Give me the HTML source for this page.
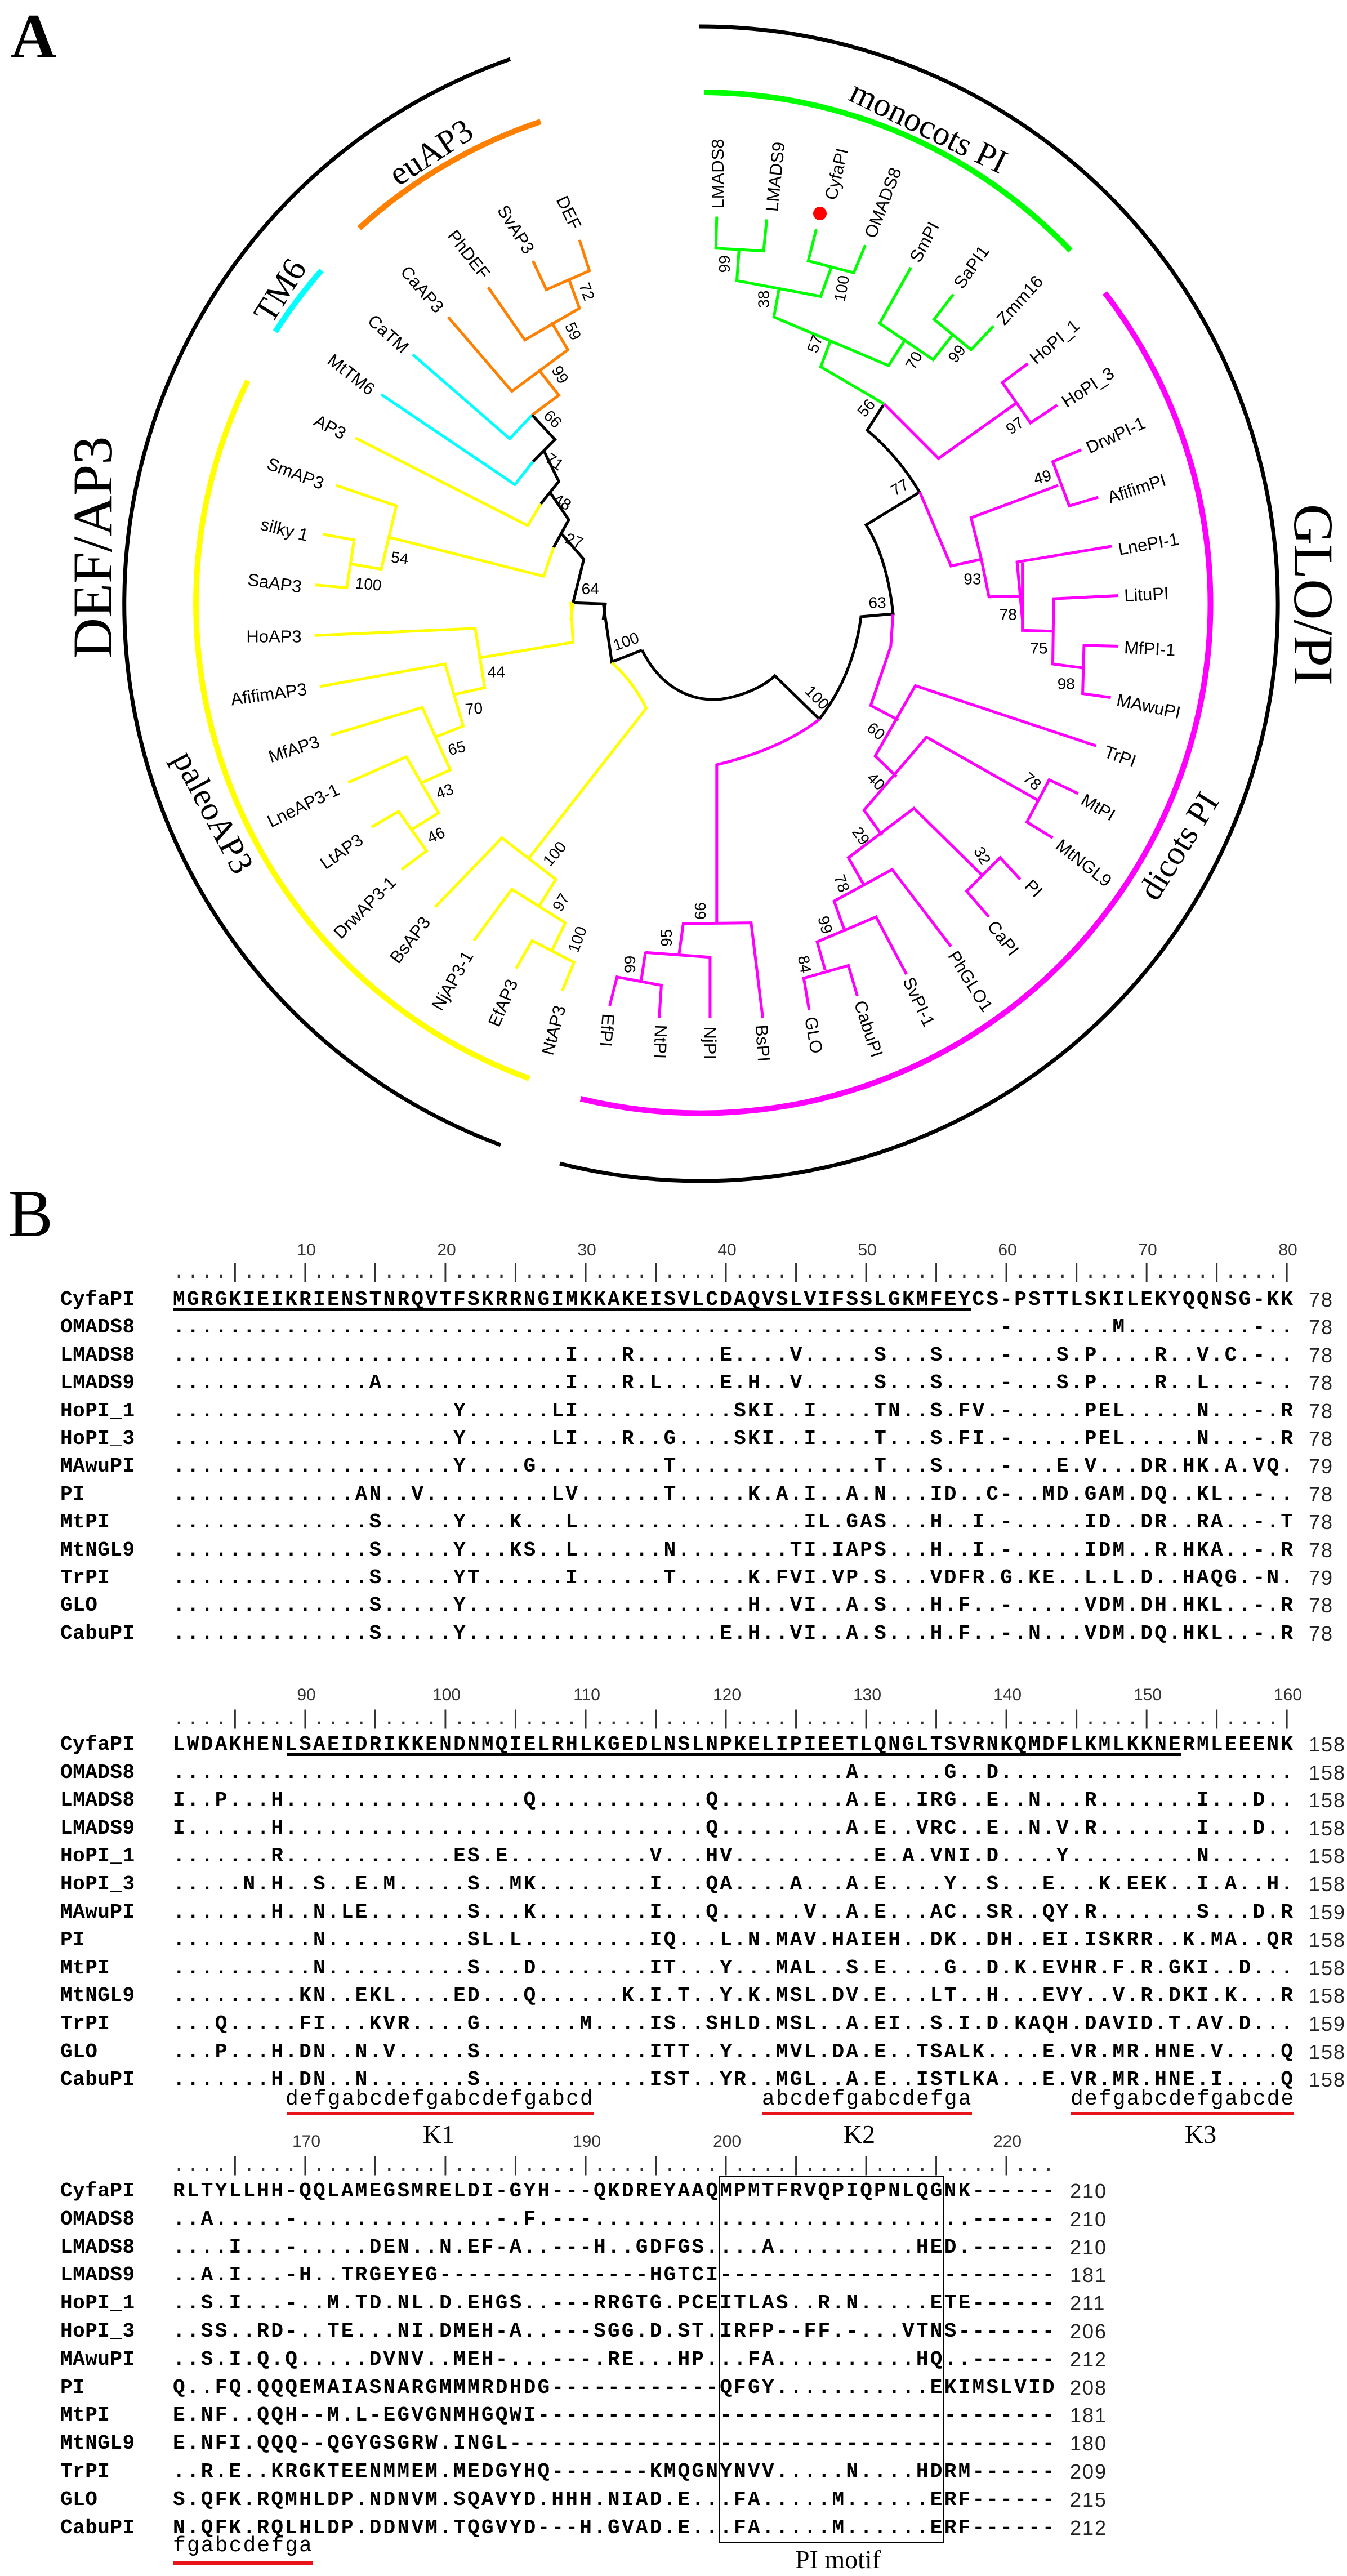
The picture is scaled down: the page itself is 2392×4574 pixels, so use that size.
<!DOCTYPE html>
<html><head><meta charset="utf-8">
<style>
html,body{margin:0;padding:0;background:#fff;}
#pg{position:relative;width:2392px;height:4574px;overflow:hidden;background:#fff;}
svg{position:absolute;left:0;top:0;}
.r{position:absolute;left:0;height:36px;white-space:pre;}
.r span{position:absolute;top:0;font:bold 36px/36px "Liberation Mono",monospace;letter-spacing:3.3px;color:#000;white-space:pre;}
.r .n{left:107px;letter-spacing:0.5px;}
.r .s{left:307px;}
.r .e{font-weight:normal;font-family:"Liberation Sans",sans-serif;letter-spacing:2px;color:#222;}
.e1{left:2324px;}
.e3{left:1900px;}
.tk{position:absolute;left:307px;font:36px/36px "Liberation Mono",monospace;letter-spacing:3.3px;white-space:pre;color:#333;}
.num{position:absolute;width:100px;text-align:center;font:30px/30px "Liberation Sans",sans-serif;color:#333;}
.ul{position:absolute;background:#000;height:5px;}
.red{position:absolute;background:#e8141a;height:6px;}
.an{position:absolute;font:38px/38px "Liberation Mono",monospace;letter-spacing:2.1px;white-space:pre;color:#000;}
.kl{position:absolute;width:200px;text-align:center;font:46px/46px "Liberation Serif",serif;color:#000;}
</style></head>
<body><div id="pg">
<svg width="2392" height="2140" viewBox="0 0 2392 2140" xmlns="http://www.w3.org/2000/svg">
<g fill="none" stroke-linejoin="miter">
<!-- big arcs -->
<path d="M889,2033 A1025,1025 0 0 1 906,105" stroke="#000" stroke-width="7"/>
<path d="M1241,47 A1025,1025 0 1 1 994,2066" stroke="#000" stroke-width="7"/>
<path d="M638,405 A902,902 0 0 1 960,216" stroke="#ff8000" stroke-width="10"/>
<path d="M489,589 A897,897 0 0 1 571,480" stroke="#00ffff" stroke-width="10"/>
<path d="M940,1915 A897,897 0 0 1 440,676" stroke="#ffff00" stroke-width="10"/>
<path d="M1250,164 A908,908 0 0 1 1901,445" stroke="#00ff00" stroke-width="10"/>
<path d="M1962,520 A905,905 0 0 1 1031,1951" stroke="#ff00ff" stroke-width="10"/>
<!-- root / backbone black in orig coords -->
<path d="M1140,1154 C1175,1225 1235,1250 1290,1240 C1330,1232 1360,1215 1376,1200 L1455,1277" stroke="#000" stroke-width="5"/>
<path d="M1455,1277 Q1515,1200 1529,1095 L1586,1090 Q1575,990 1538,932 L1633,874" stroke="#000" stroke-width="5"/>
<path d="M1570,717 L1540,764 Q1595,810 1633,874" stroke="#000" stroke-width="5"/>
</g>
<circle cx="1456" cy="379" r="12" fill="#ff0000"/>

<!-- Z4 top-left -->
<g transform="matrix(0.7651,0,0,0.7018,0,0)" fill="none" stroke-width="5">
<g style="vector-effect:non-scaling-stroke">
<path vector-effect="non-scaling-stroke" stroke="#ff8000" d="M1345,607 L1368,685 L1268,733 L1237,660"/>
<path vector-effect="non-scaling-stroke" stroke="#ff8000" d="M1320,705 L1345,780 L1218,860 L1133,727"/>
<path vector-effect="non-scaling-stroke" stroke="#ff8000" d="M1280,815 L1318,885 L1188,990 L1040,802"/>
<path vector-effect="non-scaling-stroke" stroke="#ff8000" d="M1250,935 L1297,1000 L1235,1050"/>
<path vector-effect="non-scaling-stroke" stroke="#00ffff" d="M958,897 L1183,1110 L1235,1050"/>
<path vector-effect="non-scaling-stroke" stroke="#000" d="M1235,1050 L1288,1112 L1237,1168"/>
<path vector-effect="non-scaling-stroke" stroke="#00ffff" d="M1237,1168 L1195,1226 L885,998"/>
<path vector-effect="non-scaling-stroke" stroke="#000" d="M1262,1140 L1297,1218 L1255,1275"/>
<path vector-effect="non-scaling-stroke" stroke="#ffff00" d="M1255,1275 L1225,1330 L825,1108"/>
<path vector-effect="non-scaling-stroke" stroke="#000" d="M1276,1245 L1320,1315 L1285,1385"/>
<path vector-effect="non-scaling-stroke" stroke="#ffff00" d="M1285,1385 L1262,1458 L905,1360"/>
<path vector-effect="non-scaling-stroke" stroke="#ffff00" d="M780,1228 L920,1280 L885,1440 L815,1427"/>
<path vector-effect="non-scaling-stroke" stroke="#ffff00" d="M750,1352 L822,1366 L805,1487 L732,1480"/>
<path vector-effect="non-scaling-stroke" stroke="#000" d="M1303,1350 L1355,1415 L1330,1525 L1405,1528 L1400,1568"/>
<path vector-effect="non-scaling-stroke" stroke="#ffff00" d="M1330,1525 L1325,1568"/>
</g>
</g>
<g transform="matrix(0.7651,0,0,0.7018,0,0)" font-family="Liberation Sans, sans-serif" fill="#000" dominant-baseline="central">
<g font-size="31" text-anchor="end">
<text transform="translate(1338,578) scale(1.307,1.425) rotate(64)">DEF</text>
<text transform="translate(1230,638) scale(1.307,1.425) rotate(58)">SvAP3</text>
<text transform="translate(1128,700) scale(1.307,1.425) rotate(52)">PhDEF</text>
<text transform="translate(1022,785) scale(1.307,1.425) rotate(49)">CaAP3</text>
<text transform="translate(942,885) scale(1.307,1.425) rotate(42)">CaTM</text>
<text transform="translate(865,990) scale(1.307,1.425) rotate(38)">MtTM6</text>
<text transform="translate(800,1100) scale(1.307,1.425) rotate(28)">AP3</text>
<text transform="translate(750,1225) scale(1.307,1.425) rotate(21)">SmAP3</text>
<text transform="translate(715,1355) scale(1.307,1.425) rotate(14)">silky 1</text>
<text transform="translate(700,1485) scale(1.307,1.425) rotate(8)">SaAP3</text>
</g>
<g font-size="28" text-anchor="middle">
<text transform="translate(1362,738) scale(1.307,1.425) rotate(70)">72</text>
<text transform="translate(1330,838) scale(1.307,1.425) rotate(65)">59</text>
<text transform="translate(1300,948) scale(1.307,1.425) rotate(60)">99</text>
<text transform="translate(1283,1060) scale(1.307,1.425) rotate(45)">66</text>
<text transform="translate(1287,1168) scale(1.307,1.425) rotate(35)">71</text>
<text transform="translate(1305,1270) scale(1.307,1.425) rotate(30)">48</text>
<text transform="translate(1333,1368) scale(1.307,1.425) rotate(20)">27</text>
<text transform="translate(1370,1490) scale(1.307,1.425)">64</text>
<text transform="translate(928,1412) scale(1.307,1.425) rotate(8)">54</text>
<text transform="translate(855,1478) scale(1.307,1.425) rotate(5)">100</text>
</g>
</g>

<!-- Z5 top-right -->
<g transform="matrix(0.7924,0,0,0.7018,1150,0)" fill="none" stroke-width="5">
<path vector-effect="non-scaling-stroke" stroke="#00ff00" d="M155,548 L153,628 L260,635 L267,555"/>
<path vector-effect="non-scaling-stroke" stroke="#00ff00" d="M205,630 L200,710 L388,750 L412,675"/>
<path vector-effect="non-scaling-stroke" stroke="#00ff00" d="M378,580 L360,660 L462,690 L488,620"/>
<path vector-effect="non-scaling-stroke" stroke="#00ff00" d="M295,728 L283,802 L540,925 L578,858"/>
<path vector-effect="non-scaling-stroke" stroke="#00ff00" d="M590,677 L520,818 L640,910 L683,848"/>
<path vector-effect="non-scaling-stroke" stroke="#00ff00" d="M685,745 L642,808 L725,885 L775,825"/>
<path vector-effect="non-scaling-stroke" stroke="#00ff00" d="M410,862 L388,928 L530,1022"/>
<path vector-effect="non-scaling-stroke" stroke="#ff00ff" d="M530,1022 L652,1160 L826,1020"/>
<path vector-effect="non-scaling-stroke" stroke="#ff00ff" d="M852,920 L795,968 L858,1070 L918,1025"/>
<path vector-effect="non-scaling-stroke" stroke="#ff00ff" d="M610,1245 L680,1432 L748,1415"/>
<path vector-effect="non-scaling-stroke" stroke="#ff00ff" d="M748,1415 L725,1310 L920,1228"/>
<path vector-effect="non-scaling-stroke" stroke="#ff00ff" d="M972,1138 L908,1168 L945,1280 L1010,1258"/>
<path vector-effect="non-scaling-stroke" stroke="#ff00ff" d="M748,1415 L765,1510 L835,1508"/>
<path vector-effect="non-scaling-stroke" stroke="#ff00ff" d="M1040,1382 L828,1422 L840,1568"/>
</g>
<g transform="matrix(0.7924,0,0,0.7018,1150,0)" font-family="Liberation Sans, sans-serif" fill="#000" dominant-baseline="central">
<g font-size="31" text-anchor="start">
<text transform="translate(157,528) scale(1.262,1.425) rotate(-90)">LMADS8</text>
<text transform="translate(278,535) scale(1.262,1.425) rotate(-84)">LMADS9</text>
<text transform="translate(410,505) scale(1.262,1.425) rotate(-77)">CyfaPI</text>
<text transform="translate(498,600) scale(1.262,1.425) rotate(-69)">OMADS8</text>
<text transform="translate(598,660) scale(1.262,1.425) rotate(-62)">SmPI</text>
<text transform="translate(695,725) scale(1.262,1.425) rotate(-55)">SaPI1</text>
<text transform="translate(790,815) scale(1.262,1.425) rotate(-48)">Zmm16</text>
<text transform="translate(862,912) scale(1.262,1.425) rotate(-40)">HoPI_1</text>
<text transform="translate(932,1020) scale(1.262,1.425) rotate(-33)">HoPI_3</text>
<text transform="translate(985,1135) scale(1.262,1.425) rotate(-25)">DrwPI-1</text>
<text transform="translate(1032,1260) scale(1.262,1.425) rotate(-18)">AfifimPI</text>
<text transform="translate(1055,1390) scale(1.262,1.425) rotate(-10)">LnePI-1</text>
</g>
<g font-size="28" text-anchor="middle">
<text transform="translate(172,668) scale(1.262,1.425) rotate(-90)">99</text>
<text transform="translate(260,757) scale(1.262,1.425) rotate(-90)">38</text>
<text transform="translate(435,730) scale(1.262,1.425) rotate(-80)">100</text>
<text transform="translate(375,870) scale(1.262,1.425) rotate(-70)">57</text>
<text transform="translate(597,912) scale(1.262,1.425) rotate(-60)">70</text>
<text transform="translate(693,895) scale(1.262,1.425) rotate(-52)">99</text>
<text transform="translate(490,1032) scale(1.262,1.425) rotate(-50)">56</text>
<text transform="translate(823,1077) scale(1.262,1.425) rotate(-35)">97</text>
<text transform="translate(565,1233) scale(1.262,1.425) rotate(-30)">77</text>
<text transform="translate(885,1207) scale(1.262,1.425) rotate(-15)">49</text>
<text transform="translate(728,1465) scale(1.262,1.425)">93</text>
<text transform="translate(515,1525) scale(1.262,1.425)">63</text>
</g>
</g>

<!-- Z6 bottom-left -->
<g transform="matrix(0.7651,0,0,0.7018,0,1000)" fill="none" stroke-width="5">
<path vector-effect="non-scaling-stroke" stroke="#000" d="M1400,100 L1420,250 L1490,220"/>
<path vector-effect="non-scaling-stroke" stroke="#ffff00" d="M1325,98 L1330,200 L1110,240"/>
<path vector-effect="non-scaling-stroke" stroke="#ffff00" d="M730,183 L1103,165 L1125,315 L1055,332"/>
<path vector-effect="non-scaling-stroke" stroke="#ffff00" d="M742,312 L1033,255 L1075,412 L1010,440"/>
<path vector-effect="non-scaling-stroke" stroke="#ffff00" d="M768,435 L980,365 L1045,523 L980,555"/>
<path vector-effect="non-scaling-stroke" stroke="#ffff00" d="M808,555 L943,490 L1018,632 L958,672"/>
<path vector-effect="non-scaling-stroke" stroke="#ffff00" d="M862,668 L925,628 L990,728 L932,775"/>
<path vector-effect="non-scaling-stroke" stroke="#ffff00" d="M1420,252 Q1470,300 1500,367 L1225,750"/>
<path vector-effect="non-scaling-stroke" stroke="#ffff00" d="M1010,870 L1165,695 L1290,800 L1250,870"/>
<path vector-effect="non-scaling-stroke" stroke="#ffff00" d="M1100,955 L1188,825 L1312,910 L1282,978"/>
<path vector-effect="non-scaling-stroke" stroke="#ffff00" d="M1198,1025 L1235,955 L1332,1010 L1305,1082"/>
<path vector-effect="non-scaling-stroke" stroke="#ff00ff" d="M1498,985 L1488,1057"/>
<path vector-effect="non-scaling-stroke" stroke="#ff00ff" d="M1415,1120 L1432,1047 L1535,1068 L1530,1150"/>
</g>
<g transform="matrix(0.7651,0,0,0.7018,0,1000)" font-family="Liberation Sans, sans-serif" fill="#000" dominant-baseline="central">
<g font-size="31" text-anchor="end">
<text transform="translate(700,185) scale(1.307,1.425)">HoAP3</text>
<text transform="translate(712,318) scale(1.307,1.425) rotate(-8)">AfifimAP3</text>
<text transform="translate(740,450) scale(1.307,1.425) rotate(-18)">MfAP3</text>
<text transform="translate(785,570) scale(1.307,1.425) rotate(-26)">LneAP3-1</text>
<text transform="translate(838,695) scale(1.307,1.425) rotate(-35)">LtAP3</text>
<text transform="translate(912,800) scale(1.307,1.425) rotate(-45)">DrwAP3-1</text>
<text transform="translate(990,900) scale(1.307,1.425) rotate(-52)">BsAP3</text>
<text transform="translate(1088,985) scale(1.307,1.425) rotate(-60)">NjAP3-1</text>
<text transform="translate(1190,1055) scale(1.307,1.425) rotate(-67)">EfAP3</text>
<text transform="translate(1300,1120) scale(1.307,1.425) rotate(-75)">NtAP3</text>
</g>
<text font-size="31" text-anchor="start" transform="translate(1412,1140) scale(1.307,1.425) rotate(95)">EfPI</text>
<g font-size="28" text-anchor="middle">
<text transform="translate(1453,198) scale(1.307,1.425) rotate(-20)">100</text>
<text transform="translate(1152,275) scale(1.307,1.425)">44</text>
<text transform="translate(1100,368) scale(1.307,1.425) rotate(-5)">70</text>
<text transform="translate(1060,468) scale(1.307,1.425) rotate(-15)">65</text>
<text transform="translate(1032,577) scale(1.307,1.425) rotate(-20)">43</text>
<text transform="translate(1012,688) scale(1.307,1.425) rotate(-25)">46</text>
<text transform="translate(1287,735) scale(1.307,1.425) rotate(-50)">100</text>
<text transform="translate(1302,858) scale(1.307,1.425) rotate(-60)">97</text>
<text transform="translate(1340,952) scale(1.307,1.425) rotate(-70)">100</text>
<text transform="translate(1462,1015) scale(1.307,1.425) rotate(-90)">99</text>
</g>
</g>

<!-- Z7 bottom-right -->
<g transform="matrix(0.7924,0,0,0.7018,1150,1000)" fill="none" stroke-width="5">
<path vector-effect="non-scaling-stroke" stroke="#ff00ff" d="M840,0 L840,170 L908,172"/>
<path vector-effect="non-scaling-stroke" stroke="#ff00ff" d="M1055,82 L910,90 L908,255 L975,265"/>
<path vector-effect="non-scaling-stroke" stroke="#ff00ff" d="M1055,210 L978,208 L975,330 L1038,340"/>
<path vector-effect="non-scaling-stroke" stroke="#ff00ff" d="M550,130 L545,210 L500,360 L562,397"/>
<path vector-effect="non-scaling-stroke" stroke="#ff00ff" d="M1005,462 L600,310 L510,488 L558,540"/>
<path vector-effect="non-scaling-stroke" stroke="#ff00ff" d="M875,600 L625,440 L485,625 L525,688"/>
<path vector-effect="non-scaling-stroke" stroke="#ff00ff" d="M965,583 L900,548 L850,655 L908,695"/>
<path vector-effect="non-scaling-stroke" stroke="#ff00ff" d="M750,790 L597,620 L450,745 L485,815"/>
<path vector-effect="non-scaling-stroke" stroke="#ff00ff" d="M835,800 L790,745 L715,830 L765,895"/>
<path vector-effect="non-scaling-stroke" stroke="#ff00ff" d="M680,970 L548,775 L418,855 L440,925"/>
<path vector-effect="non-scaling-stroke" stroke="#ff00ff" d="M580,1040 L512,895 L380,958 L398,1030"/>
<path vector-effect="non-scaling-stroke" stroke="#ff00ff" d="M362,1130 L350,1050 L450,1018 L470,1095"/>
<path vector-effect="non-scaling-stroke" stroke="#ff00ff" d="M385,395 Q300,470 155,510 L155,912"/>
<path vector-effect="non-scaling-stroke" stroke="#ff00ff" d="M70,993 L80,912 L232,910 L258,1150"/>
<path vector-effect="non-scaling-stroke" stroke="#ff00ff" d="M-5,985 L140,997 L140,1150"/>
</g>
<g transform="matrix(0.7924,0,0,0.7018,1150,1000)" font-family="Liberation Sans, sans-serif" fill="#000" dominant-baseline="central">
<g font-size="31" text-anchor="start">
<text transform="translate(1068,82) scale(1.262,1.425) rotate(-3)">LituPI</text>
<text transform="translate(1068,213) scale(1.262,1.425) rotate(3)">MfPI-1</text>
<text transform="translate(1052,345) scale(1.262,1.425) rotate(12)">MAwuPI</text>
<text transform="translate(1025,475) scale(1.262,1.425) rotate(20)">TrPI</text>
<text transform="translate(975,595) scale(1.262,1.425) rotate(30)">MtPI</text>
<text transform="translate(920,708) scale(1.262,1.425) rotate(38)">MtNGL9</text>
<text transform="translate(852,808) scale(1.262,1.425) rotate(45)">PI</text>
<text transform="translate(770,910) scale(1.262,1.425) rotate(52)">CaPI</text>
<text transform="translate(683,985) scale(1.262,1.425) rotate(58)">PhGLO1</text>
<text transform="translate(583,1050) scale(1.262,1.425) rotate(65)">SvPI-1</text>
<text transform="translate(475,1108) scale(1.262,1.425) rotate(72)">CabuPI</text>
<text transform="translate(365,1148) scale(1.262,1.425) rotate(80)">GLO</text>
<text transform="translate(255,1168) scale(1.262,1.425) rotate(86)">BsPI</text>
<text transform="translate(140,1172) scale(1.262,1.425) rotate(90)">NjPI</text>
<text transform="translate(30,1168) scale(1.262,1.425) rotate(92)">NtPI</text>
</g>
<g font-size="28" text-anchor="middle">
<text transform="translate(808,130) scale(1.262,1.425)">78</text>
<text transform="translate(877,215) scale(1.262,1.425)">75</text>
<text transform="translate(938,305) scale(1.262,1.425)">98</text>
<text transform="translate(380,340) scale(1.262,1.425) rotate(45)">100</text>
<text transform="translate(512,425) scale(1.262,1.425) rotate(40)">60</text>
<text transform="translate(512,552) scale(1.262,1.425) rotate(45)">40</text>
<text transform="translate(862,552) scale(1.262,1.425) rotate(40)">78</text>
<text transform="translate(478,690) scale(1.262,1.425) rotate(55)">29</text>
<text transform="translate(750,740) scale(1.262,1.425) rotate(60)">32</text>
<text transform="translate(435,810) scale(1.262,1.425) rotate(70)">78</text>
<text transform="translate(398,915) scale(1.262,1.425) rotate(75)">99</text>
<text transform="translate(352,1015) scale(1.262,1.425) rotate(80)">84</text>
<text transform="translate(118,880) scale(1.262,1.425) rotate(-90)">66</text>
<text transform="translate(42,948) scale(1.262,1.425) rotate(-90)">95</text>
</g>
</g>

<!-- clade labels -->
<g font-family="Liberation Serif, serif" fill="#000" text-anchor="middle" dominant-baseline="central">
<text font-size="60" transform="translate(765,270) rotate(-33)">euAP3</text>
<text font-size="60" transform="translate(497,516) rotate(-58)">TM6</text>
<text font-size="60" transform="translate(1649,225) rotate(26)">monocots PI</text>
<text font-size="60" transform="translate(2093,1502) rotate(-58)">dicots PI</text>
<text font-size="60" transform="translate(379,1442) rotate(62)">paleoAP3</text>
</g>
<text font-family="Liberation Serif, serif" font-size="100" text-anchor="middle" transform="translate(198,972) rotate(-90)">DEF/AP3</text>
<text font-family="Liberation Serif, serif" font-size="100" text-anchor="middle" transform="translate(2299,1056) rotate(90)">GLO/PI</text>
<text x="19" y="102" font-family="Liberation Serif, serif" font-weight="bold" font-size="112">A</text>
</svg>

<div style="position:absolute;left:14px;top:2095px;font:120px/120px 'Liberation Serif',serif;">B</div>

<!-- Block 1 -->
<div class="num" style="left:494px;top:2205px">10</div>
<div class="num" style="left:743px;top:2205px">20</div>
<div class="num" style="left:992px;top:2205px">30</div>
<div class="num" style="left:1241px;top:2205px">40</div>
<div class="num" style="left:1490px;top:2205px">50</div>
<div class="num" style="left:1739px;top:2205px">60</div>
<div class="num" style="left:1988px;top:2205px">70</div>
<div class="num" style="left:2237px;top:2205px">80</div>
<div class="tk" style="top:2242px">....|....|....|....|....|....|....|....|....|....|....|....|....|....|....|....|</div>
<div class="r" style="top:2290px"><span class="n">CyfaPI</span><span class="s">MGRGKIEIKRIENSTNRQVTFSKRRNGIMKKAKEISVLCDAQVSLVIFSSLGKMFEYCS-PSTTLSKILEKYQQNSG-KK</span><span class="e e1">78</span></div>
<div class="ul" style="left:307px;top:2322px;width:1418px"></div>
<div class="r" style="top:2339px"><span class="n">OMADS8</span><span class="s">...........................................................-.......M.........-..</span><span class="e e1">78</span></div>
<div class="r" style="top:2389px"><span class="n">LMADS8</span><span class="s">............................I...R......E....V.....S...S....-...S.P....R..V.C.-..</span><span class="e e1">78</span></div>
<div class="r" style="top:2438px"><span class="n">LMADS9</span><span class="s">..............A.............I...R.L....E.H..V.....S...S....-...S.P....R..L...-..</span><span class="e e1">78</span></div>
<div class="r" style="top:2488px"><span class="n">HoPI_1</span><span class="s">....................Y......LI...........SKI..I....TN..S.FV.-.....PEL.....N...-.R</span><span class="e e1">78</span></div>
<div class="r" style="top:2537px"><span class="n">HoPI_3</span><span class="s">....................Y......LI...R..G....SKI..I....T...S.FI.-.....PEL.....N...-.R</span><span class="e e1">78</span></div>
<div class="r" style="top:2586px"><span class="n">MAwuPI</span><span class="s">....................Y....G.........T..............T...S....-...E.V...DR.HK.A.VQ.</span><span class="e e1">79</span></div>
<div class="r" style="top:2636px"><span class="n">PI</span><span class="s">.............AN..V.........LV......T.....K.A.I..A.N...ID..C-..MD.GAM.DQ..KL..-..</span><span class="e e1">78</span></div>
<div class="r" style="top:2685px"><span class="n">MtPI</span><span class="s">..............S.....Y...K...L................IL.GAS...H..I.-.....ID..DR..RA..-.T</span><span class="e e1">78</span></div>
<div class="r" style="top:2735px"><span class="n">MtNGL9</span><span class="s">..............S.....Y...KS..L......N........TI.IAPS...H..I.-.....IDM..R.HKA..-.R</span><span class="e e1">78</span></div>
<div class="r" style="top:2784px"><span class="n">TrPI</span><span class="s">..............S.....YT......I......T.....K.FVI.VP.S...VDFR.G.KE..L.L.D..HAQG.-N.</span><span class="e e1">79</span></div>
<div class="r" style="top:2833px"><span class="n">GLO</span><span class="s">..............S.....Y....................H..VI..A.S...H.F..-.....VDM.DH.HKL..-.R</span><span class="e e1">78</span></div>
<div class="r" style="top:2883px"><span class="n">CabuPI</span><span class="s">..............S.....Y..................E.H..VI..A.S...H.F..-.N...VDM.DQ.HKL..-.R</span><span class="e e1">78</span></div>

<!-- Block 2 -->
<div class="num" style="left:494px;top:2995px">90</div>
<div class="num" style="left:743px;top:2995px">100</div>
<div class="num" style="left:992px;top:2995px">110</div>
<div class="num" style="left:1241px;top:2995px">120</div>
<div class="num" style="left:1490px;top:2995px">130</div>
<div class="num" style="left:1739px;top:2995px">140</div>
<div class="num" style="left:1988px;top:2995px">150</div>
<div class="num" style="left:2237px;top:2995px">160</div>
<div class="tk" style="top:3035px">....|....|....|....|....|....|....|....|....|....|....|....|....|....|....|....|</div>
<div class="r" style="top:3080px"><span class="n">CyfaPI</span><span class="s">LWDAKHENLSAEIDRIKKENDNMQIELRHLKGEDLNSLNPKELIPIEETLQNGLTSVRNKQMDFLKMLKKNERMLEEENK</span><span class="e e1">158</span></div>
<div class="ul" style="left:509px;top:3113px;width:1589px"></div>
<div class="r" style="top:3130px"><span class="n">OMADS8</span><span class="s">................................................A......G..D.....................</span><span class="e e1">158</span></div>
<div class="r" style="top:3179px"><span class="n">LMADS8</span><span class="s">I..P...H.................Q............Q.........A.E..IRG..E..N...R.......I...D..</span><span class="e e1">158</span></div>
<div class="r" style="top:3229px"><span class="n">LMADS9</span><span class="s">I......H..............................Q.........A.E..VRC..E..N.V.R.......I...D..</span><span class="e e1">158</span></div>
<div class="r" style="top:3278px"><span class="n">HoPI_1</span><span class="s">.......R............ES.E..........V...HV..........E.A.VNI.D....Y.........N......</span><span class="e e1">158</span></div>
<div class="r" style="top:3328px"><span class="n">HoPI_3</span><span class="s">.....N.H..S..E.M.....S..MK........I...QA....A...A.E....Y..S...E...K.EEK..I.A..H.</span><span class="e e1">158</span></div>
<div class="r" style="top:3378px"><span class="n">MAwuPI</span><span class="s">.......H..N.LE.......S...K........I...Q......V..A.E...AC..SR..QY.R.......S...D.R</span><span class="e e1">159</span></div>
<div class="r" style="top:3427px"><span class="n">PI</span><span class="s">..........N..........SL.L.........IQ...L.N.MAV.HAIEH..DK..DH..EI.ISKRR..K.MA..QR</span><span class="e e1">158</span></div>
<div class="r" style="top:3477px"><span class="n">MtPI</span><span class="s">..........N..........S...D........IT...Y...MAL..S.E....G..D.K.EVHR.F.R.GKI..D...</span><span class="e e1">158</span></div>
<div class="r" style="top:3526px"><span class="n">MtNGL9</span><span class="s">.........KN..EKL....ED...Q......K.I.T..Y.K.MSL.DV.E...LT..H...EVY..V.R.DKI.K...R</span><span class="e e1">158</span></div>
<div class="r" style="top:3576px"><span class="n">TrPI</span><span class="s">...Q.....FI...KVR....G.......M....IS..SHLD.MSL..A.EI..S.I.D.KAQH.DAVID.T.AV.D...</span><span class="e e1">159</span></div>
<div class="r" style="top:3626px"><span class="n">GLO</span><span class="s">...P...H.DN..N.V.....S............ITT..Y...MVL.DA.E..TSALK....E.VR.MR.HNE.V....Q</span><span class="e e1">158</span></div>
<div class="r" style="top:3675px"><span class="n">CabuPI</span><span class="s">.......H.DN..N.......S............IST..YR..MGL..A.E..ISTLKA...E.VR.MR.HNE.I....Q</span><span class="e e1">158</span></div>

<!-- annotation -->
<div class="an" style="left:507px;top:3709px">defgabcdefgabcdefgabcd</div>
<div class="an" style="left:1353px;top:3709px">abcdefgabcdefga</div>
<div class="an" style="left:1901px;top:3709px">defgabcdefgabcde</div>
<div class="red" style="left:509px;top:3750px;width:546px"></div>
<div class="red" style="left:1353px;top:3750px;width:373px"></div>
<div class="red" style="left:1901px;top:3750px;width:397px"></div>
<div class="kl" style="left:679px;top:3767px">K1</div>
<div class="kl" style="left:1426px;top:3767px">K2</div>
<div class="kl" style="left:2032px;top:3767px">K3</div>

<!-- Block 3 -->
<div class="num" style="left:494px;top:3788px">170</div>
<div class="num" style="left:992px;top:3788px">190</div>
<div class="num" style="left:1241px;top:3788px">200</div>
<div class="num" style="left:1739px;top:3788px">220</div>
<div class="tk" style="top:3828px">....|....|....|....|....|....|....|....|....|....|....|....|...</div>
<div style="position:absolute;left:1276px;top:3864px;width:396px;height:647px;border:2px solid #000;"></div>
<div class="r" style="top:3873px"><span class="n">CyfaPI</span><span class="s">RLTYLLHH-QQLAMEGSMRELDI-GYH---QKDREYAAQMPMTFRVQPIQPNLQGNK------</span><span class="e e3">210</span></div>
<div class="r" style="top:3923px"><span class="n">OMADS8</span><span class="s">..A.....-..............-.F.---...........................------</span><span class="e e3">210</span></div>
<div class="r" style="top:3973px"><span class="n">LMADS8</span><span class="s">....I...-.....DEN..N.EF-A..---H..GDFGS....A..........HED.------</span><span class="e e3">210</span></div>
<div class="r" style="top:4022px"><span class="n">LMADS9</span><span class="s">..A.I...-H..TRGEYEG---------------HGTCI------------------------</span><span class="e e3">181</span></div>
<div class="r" style="top:4072px"><span class="n">HoPI_1</span><span class="s">..S.I...-..M.TD.NL.D.EHGS..---RRGTG.PCEITLAS..R.N.....ETE------</span><span class="e e3">211</span></div>
<div class="r" style="top:4122px"><span class="n">HoPI_3</span><span class="s">..SS..RD-..TE...NI.DMEH-A..---SGG.D.ST.IRFP--FF.-...VTNS-------</span><span class="e e3">206</span></div>
<div class="r" style="top:4172px"><span class="n">MAwuPI</span><span class="s">..S.I.Q.Q.....DVNV..MEH-...---.RE...HP...FA..........HQ..------</span><span class="e e3">212</span></div>
<div class="r" style="top:4222px"><span class="n">PI</span><span class="s">Q..FQ.QQQEMAIASNARGMMMRDHDG------------QFGY...........EKIMSLVID</span><span class="e e3">208</span></div>
<div class="r" style="top:4271px"><span class="n">MtPI</span><span class="s">E.NF..QQH--M.L-EGVGNMHGQWI-------------------------------------</span><span class="e e3">181</span></div>
<div class="r" style="top:4321px"><span class="n">MtNGL9</span><span class="s">E.NFI.QQQ--QGYGSGRW.INGL---------------------------------------</span><span class="e e3">180</span></div>
<div class="r" style="top:4371px"><span class="n">TrPI</span><span class="s">..R.E..KRGKTEENMMEM.MEDGYHQ-------KMQGNYNVV.....N....HDRM------</span><span class="e e3">209</span></div>
<div class="r" style="top:4421px"><span class="n">GLO</span><span class="s">S.QFK.RQMHLDP.NDNVM.SQAVYD.HHH.NIAD.E...FA.....M......ERF------</span><span class="e e3">215</span></div>
<div class="r" style="top:4471px"><span class="n">CabuPI</span><span class="s">N.QFK.RQLHLDP.DDNVM.TQGVYD---H.GVAD.E...FA.....M......ERF------</span><span class="e e3">212</span></div>
<div class="an" style="left:307px;top:4502px">fgabcdefga</div>
<div class="red" style="left:307px;top:4548px;width:249px"></div>
<div style="position:absolute;left:1338px;top:4522px;width:300px;text-align:center;font:46px/46px 'Liberation Serif',serif;">PI motif</div>
</div></body></html>
